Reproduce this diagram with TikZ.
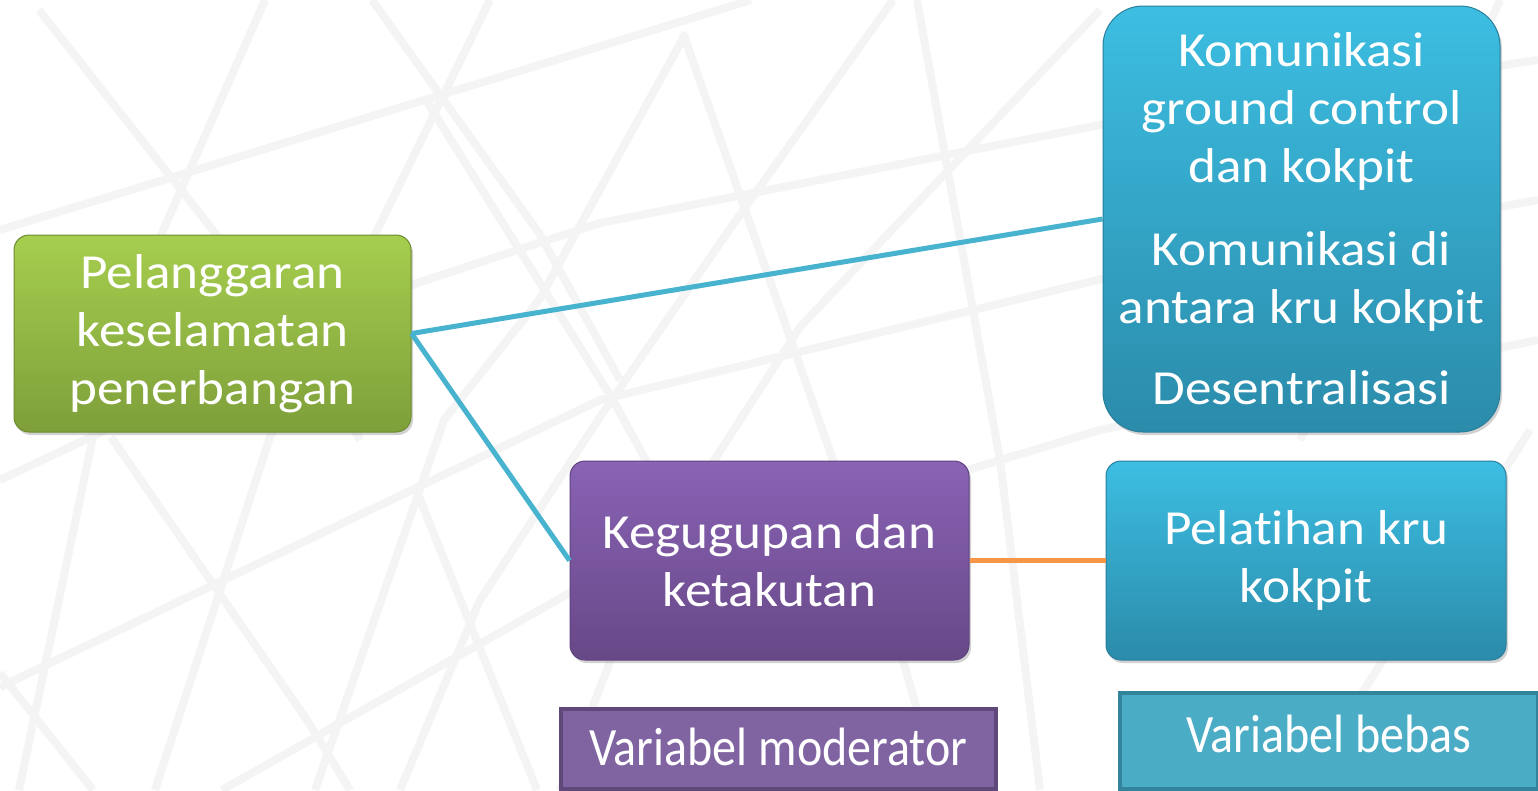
\documentclass[tikz,border=0pt]{standalone}
\usepackage{fontspec}
\setmainfont{Carlito}[FakeStretch=1.085, Ligatures={NoCommon}]
\newfontfamily\legendfont{Carlito}[FakeStretch=0.89, Ligatures={NoCommon}]
\usetikzlibrary{shadows}
\definecolor{bgline}{HTML}{F4F4F5}
\definecolor{gtop}{HTML}{A6CE4E}
\definecolor{gbot}{HTML}{7E9F3A}
\definecolor{gbrd}{HTML}{6E8C30}
\definecolor{btop}{HTML}{3CBEE2}
\definecolor{bbot}{HTML}{2B8BAA}
\definecolor{bbrd}{HTML}{2A7F9C}
\definecolor{ptop}{HTML}{8A63B5}
\definecolor{pbot}{HTML}{674887}
\definecolor{pbrd}{HTML}{5E437E}
\definecolor{conblue}{HTML}{48B3CF}
\definecolor{conorange}{HTML}{F79646}
\definecolor{modfill}{HTML}{8064A2}
\definecolor{modbrd}{HTML}{5F497A}
\definecolor{bebfill}{HTML}{4BACC6}
\definecolor{bebbrd}{HTML}{31849B}
\tikzset{
  box/.style={draw, line width=1pt, align=center, text=white, inner sep=0pt,
    font=\fontsize{49}{58}\selectfont,
    drop shadow={shadow xshift=2pt, shadow yshift=-3pt, opacity=0.35}},
  greenbox/.style={box, draw=gbrd, top color=gtop, bottom color=gbot, rounded corners=15pt},
  bluebox/.style={box, draw=bbrd, top color=btop, bottom color=bbot},
  purplebox/.style={box, draw=pbrd, top color=ptop, bottom color=pbot, rounded corners=15pt},
  legendbox/.style={line width=4pt, text=white, align=center, inner sep=0pt,
    font=\legendfont\fontsize{54}{60}\selectfont},
  link/.style={line width=5pt},
  bg/.style={draw=bgline, line width=8pt, line join=round}
}
\begin{document}
\begin{tikzpicture}[x=1pt,y=-1pt]
\useasboundingbox (0,0) rectangle (1538,790);
\fill[white] (0,0) rectangle (1538,790);
% background mesh (faint)
\draw[bg] (0,230) -- (686,20) -- (751,0);
\draw[bg] (0,480) -- (417,283) -- (600,223) -- (1110,123) -- (1538,60);
\draw[bg] (0,687) -- (600,400) -- (1110,277) -- (1538,200);
\draw[bg] (222,790) -- (580,587) -- (1100,430) -- (1538,340);
\draw[bg] (0,673) -- (93,790);
\draw[bg] (265,0) -- (162,233) -- (93,437) -- (19,790);
\draw[bg] (490,0) -- (343,300) -- (270,437) -- (155,790);
\draw[bg] (686,33) -- (539,300) -- (444,420) -- (315,790);
\draw[bg] (893,0) -- (727,233) -- (600,417) -- (480,600) -- (400,790);
\draw[bg] (1100,10) -- (800,327) -- (650,560) -- (560,790);
\draw[bg] (39,10) -- (294,333) -- (360,440);
\draw[bg] (111,437) -- (307,720) -- (350,790);
\draw[bg] (372,0) -- (539,233) -- (620,380);
\draw[bg] (426,100) -- (613,400) -- (700,560);
\draw[bg] (415,487) -- (537,790);
\draw[bg] (683,33) -- (833,460) -- (900,650) -- (940,790);
\draw[bg] (917,0) -- (1000,460) -- (1040,790);
\draw[bg] (1500,0) -- (1300,440);
\draw[bg] (1530,430) -- (1300,790);
% nodes
\node[greenbox, minimum width=397pt, minimum height=197pt] (viol) at (212.5,333.5)
  {Pelanggaran\\keselamatan\\penerbangan};
\node[bluebox, rounded corners=40pt, minimum width=397pt, minimum height=426pt] (comm) at (1301.5,219)
  {Komunikasi\\ground control\\dan kokpit\\[25pt]Komunikasi di\\antara kru kokpit\\[23pt]Desentralisasi};
\node[purplebox, minimum width=399pt, minimum height=199pt] (fear) at (769.5,560.5)
  {Kegugupan dan\\ketakutan};
\node[bluebox, rounded corners=15pt, minimum width=400pt, minimum height=199pt] (train) at (1306,560.5)
  {Pelatihan kru\\kokpit};
\node[legendbox, draw=modbrd, fill=modfill, minimum width=435pt, minimum height=80pt,
  text height=40pt, text depth=8pt] (mod) at (778.5,749)
  {Variabel moderator};
\node[legendbox, draw=bebbrd, fill=bebfill, minimum width=418pt, minimum height=96pt,
  text height=40pt, text depth=18pt] (beb) at (1329,741)
  {Variabel bebas};
% connectors
\draw[link, conblue] (viol.east) -- (comm.west);
\draw[link, conblue] (viol.east) -- (fear.west);
\draw[link, conorange] (fear.east) -- (train.west);
\end{tikzpicture}
\end{document}
